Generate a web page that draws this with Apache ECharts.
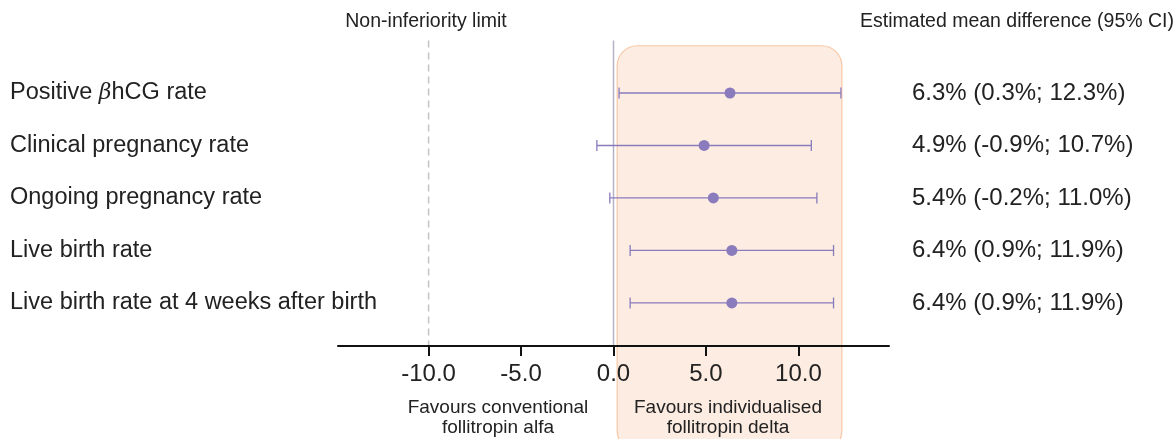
<!DOCTYPE html>
<html>
<head>
<meta charset="utf-8">
<script src="https://cdn.jsdelivr.net/npm/echarts@6/dist/echarts.min.js"></script>
<style>html,body{margin:0;padding:0;background:#fff}#c{width:1176px;height:439px}</style>
</head>
<body>
<div id="c"></div>
<script>
const categories = ['Positive {b|β}hCG rate', 'Clinical pregnancy rate', 'Ongoing pregnancy rate', 'Live birth rate', 'Live birth rate at 4 weeks after birth'];
const estimates = [6.3, 4.9, 5.4, 6.4, 6.4];
const lowerCI = [0.3, -0.9, -0.2, 0.9, 0.9];
const upperCI = [12.3, 10.7, 11.0, 11.9, 11.9];
const ciLabels = ['6.3% (0.3%; 12.3%)', '4.9% (-0.9%; 10.7%)', '5.4% (-0.2%; 11.0%)', '6.4% (0.9%; 11.9%)', '6.4% (0.9%; 11.9%)'];
const xTicks = [-10, -5, 0, 5, 10];
const nonInferiorityLimit = -10;
const favourRange = [0.2, 12.35];

const FONT = '"Liberation Sans", Arial, Helvetica, sans-serif';
const PURPLE = '#8a7bbd';
const TXT = '#222';

const chart = echarts.init(document.getElementById('c'), null, {renderer: 'canvas'});
const rowIdx = categories.map((_, i) => i);

const option = {
  animation: false,
  textStyle: {fontFamily: FONT},
  grid: {left: 338, right: 287, top: 40.5, bottom: 93, containLabel: false},
  xAxis: {
    type: 'value', min: -14.9, max: 14.9, z: 5,
    splitLine: {show: false},
    axisLine: {show: true, onZero: false, lineStyle: {color: '#111', width: 2}},
    axisTick: {show: true, customValues: xTicks, length: 10, lineStyle: {color: '#111', width: 2}},
    axisLabel: {customValues: xTicks, margin: 16, fontSize: 24, color: TXT, fontFamily: FONT,
      formatter: v => v.toFixed(1)}
  },
  yAxis: [{
    type: 'value', min: -1, max: 4.82, inverse: true, position: 'left',
    splitLine: {show: false}, axisLine: {show: false}, axisTick: {show: false},
    axisLabel: {customValues: rowIdx, align: 'left', margin: 328, fontSize: 23.5, color: TXT, fontFamily: FONT,
      formatter: v => categories[Math.round(v)],
      rich: {b: {fontStyle: 'italic', fontFamily: '"DejaVu Serif", serif', fontSize: 22, color: TXT}}}
  }, {
    type: 'value', min: -1, max: 4.82, inverse: true, position: 'right',
    splitLine: {show: false}, axisLine: {show: false}, axisTick: {show: false},
    axisLabel: {customValues: rowIdx, align: 'left', margin: 23, fontSize: 24, color: TXT, fontFamily: FONT,
      formatter: v => ciLabels[Math.round(v)]}
  }],
  series: [
    {
      type: 'custom', name: 'box', z: 0, clip: false,
      data: [[favourRange[0], favourRange[1]]],
      renderItem: (params, api) => {
        const p0 = api.coord([api.value(0), -0.9]);
        const p1 = api.coord([api.value(1), -0.9]);
        return {type: 'rect', shape: {x: p0[0], y: p0[1], width: p1[0] - p0[0], height: api.getHeight() + 12 - p0[1], r: 20},
          style: {fill: '#fcece2', stroke: '#f8c8a6', lineWidth: 1.2}};
      }
    },
    {
      type: 'line', name: 'nil', z: 1, symbol: 'none', silent: true,
      data: [[nonInferiorityLimit, -1], [nonInferiorityLimit, 4.82]],
      lineStyle: {color: '#c4c4c4', width: 1.5, type: [7, 5]}
    },
    {
      type: 'line', name: 'zero', z: 1, symbol: 'none', silent: true,
      data: [[0, -1], [0, 4.82]],
      lineStyle: {color: '#b3b3c6', width: 1.5}
    },
    {
      type: 'custom', name: 'ci', z: 3,
      data: rowIdx.map(i => [lowerCI[i], upperCI[i], i]),
      renderItem: (params, api) => {
        const a = api.coord([api.value(0), api.value(2)]);
        const b = api.coord([api.value(1), api.value(2)]);
        const h = 5.5;
        const st = {stroke: PURPLE, lineWidth: 1.3};
        return {type: 'group', children: [
          {type: 'line', shape: {x1: a[0], y1: a[1], x2: b[0], y2: b[1]}, style: st},
          {type: 'line', shape: {x1: a[0], y1: a[1] - h, x2: a[0], y2: a[1] + h}, style: st},
          {type: 'line', shape: {x1: b[0], y1: b[1] - h, x2: b[0], y2: b[1] + h}, style: st}
        ]};
      }
    },
    {
      type: 'scatter', name: 'est', z: 4, symbolSize: 11,
      itemStyle: {color: PURPLE, opacity: 1},
      data: rowIdx.map(i => [estimates[i], i])
    }
  ],
  graphic: [
    {type: 'text', z: 100, x: 426, y: 22, style: {text: 'Non-inferiority limit', font: '19.5px ' + FONT, fill: TXT, align: 'center', verticalAlign: 'middle'}},
    {type: 'text', z: 100, x: 1174, y: 22, style: {text: 'Estimated mean difference (95% CI)', font: '19.5px ' + FONT, fill: TXT, align: 'right', verticalAlign: 'middle'}},
    {type: 'text', z: 100, x: 498, y: 418, style: {text: 'Favours conventional\nfollitropin alfa', font: '19px ' + FONT, fill: TXT, align: 'center', verticalAlign: 'middle', lineHeight: 20}},
    {type: 'text', z: 100, x: 728, y: 418, style: {text: 'Favours individualised\nfollitropin delta', font: '19px ' + FONT, fill: TXT, align: 'center', verticalAlign: 'middle', lineHeight: 20}}
  ]
};
chart.setOption(option);
</script>
</body>
</html>
